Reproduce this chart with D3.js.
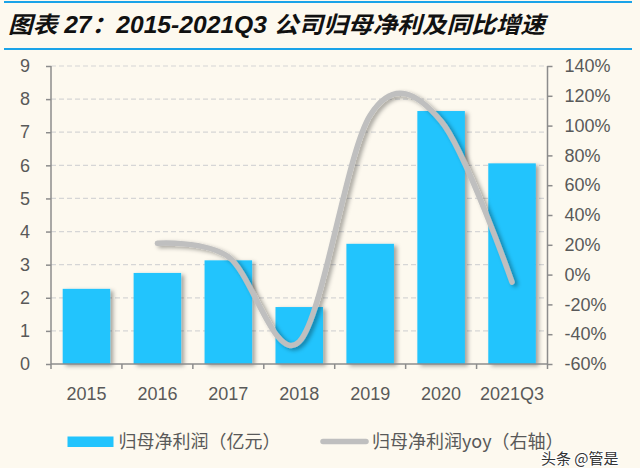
<!DOCTYPE html>
<html><head><meta charset="utf-8">
<script src="https://cdn.jsdelivr.net/npm/d3@7"></script>
<style>
html,body{margin:0;padding:0;background:#FDF9EF;}
svg{display:block;}
text{font-family:"Liberation Sans",Arial,sans-serif;}
</style></head>
<body><svg id="c" width="640" height="468"></svg>
<script>
const categories = ["2015","2016","2017","2018","2019","2020","2021Q3"];
const profit = [2.27, 2.75, 3.13, 1.72, 3.63, 7.64, 6.06];
const yoyCats = ["2016","2017","2018","2019","2020","2021Q3"];
const yoy = [0.21, 0.12, -0.45, 1.07, 1.03, -0.05];
const leftTicks = [0,1,2,3,4,5,6,7,8,9];
const rightTicks = [-0.6,-0.4,-0.2,0,0.2,0.4,0.6,0.8,1.0,1.2,1.4];
const title = "图表 27：2015-2021Q3 公司归母净利及同比增速";
const legendNames = ["归母净利润（亿元）","归母净利润yoy（右轴）"];
const watermark = "头条 @管是";

const svg = d3.select("#c");
const L = 51, R = 547.5, T = 66, B = 364;
const x = d3.scaleBand().domain(categories).range([L, R]).paddingInner(0.33).paddingOuter(0.165);
const xb = d3.scaleBand().domain(categories).range([L, R]);
const yL = d3.scaleLinear().domain([0, 9]).range([B, T]);
const yR = d3.scaleLinear().domain([-0.6, 1.4]).range([B, T]);

const defs = svg.append("defs");
const f = defs.append("filter").attr("id","sh").attr("x","-20%").attr("y","-20%").attr("width","150%").attr("height","150%");
f.append("feDropShadow").attr("dx",3).attr("dy",2).attr("stdDeviation",2).attr("flood-color","#000").attr("flood-opacity",0.35);

// title
svg.append("line").attr("x1",4).attr("x2",632).attr("y1",2).attr("y2",2).attr("stroke","#1AA3E8").attr("stroke-width",2);
svg.append("line").attr("x1",4).attr("x2",632).attr("y1",49).attr("y2",49).attr("stroke","#1AA3E8").attr("stroke-width",2);
svg.append("text").attr("x",8).attr("y",33).attr("font-size",23).attr("font-weight","bold")
  .attr("font-style","italic").attr("fill","#111")
  .style("font-family","'Liberation Sans','Noto Sans CJK SC',sans-serif")
  .attr("textLength",537).attr("lengthAdjust","spacingAndGlyphs").text(title);

// grid
svg.append("g").selectAll("line").data(leftTicks.filter(d=>d>0)).join("line")
  .attr("x1",L).attr("x2",R).attr("y1",d=>yL(d)).attr("y2",d=>yL(d))
  .attr("stroke","#D6D6D6").attr("stroke-width",1.2).attr("stroke-dasharray","5,3");

// bars
svg.append("g").selectAll("rect").data(profit).join("rect")
  .attr("x",(d,i)=>x(categories[i])).attr("width",x.bandwidth())
  .attr("y",d=>yL(d)).attr("height",d=>B-yL(d))
  .attr("fill","#22C4FD").attr("filter","url(#sh)");

// axes
const axCol = "#8C8C8C";
const gl = svg.append("g").attr("transform",`translate(${L},0)`)
  .call(d3.axisLeft(yL).tickValues(leftTicks).tickSize(5).tickPadding(16).tickFormat(d3.format("d")));
const gr = svg.append("g").attr("transform",`translate(${R},0)`)
  .call(d3.axisRight(yR).tickValues(rightTicks).tickSize(5).tickPadding(12).tickFormat(d=>Math.round(d*100)+"%"));
const gx = svg.append("g").attr("transform",`translate(0,${B})`)
  .call(d3.axisBottom(xb).tickSize(0).tickPadding(23));
[gl,gr,gx].forEach(g=>{
  g.select(".domain").attr("stroke",axCol).attr("stroke-width",1.5);
  g.selectAll(".tick line").attr("stroke",axCol).attr("stroke-width",1.5);
  g.selectAll("text").attr("fill","#595959").attr("font-size",18).style("font-family","'Liberation Sans',Arial,sans-serif");
});
gl.select(".domain").attr("d",`M-0,${B}V${T}`);
gr.select(".domain").attr("d",`M0,${B}V${T}`);
gx.select(".domain").attr("d",`M${L},0H${R}`);
// x boundary ticks
gx.append("g").selectAll("line").data(categories.concat(["end"])).join("line")
  .attr("x1",(d,i)=> i<categories.length ? xb(d) : R).attr("x2",(d,i)=> i<categories.length ? xb(d) : R)
  .attr("y1",0).attr("y2",5).attr("stroke",axCol).attr("stroke-width",1.5);

// line
const line = d3.line().x((d,i)=>xb(yoyCats[i])+xb.bandwidth()/2).y(d=>yR(d)).curve(d3.curveCatmullRom.alpha(0));
svg.append("path").datum(yoy).attr("d",line).attr("fill","none")
  .attr("stroke","#BFBFBF").attr("stroke-width",5.5).attr("stroke-linecap","round").attr("filter","url(#sh)");

// legend
svg.append("rect").attr("x",67.5).attr("y",436.5).attr("width",46).attr("height",10.5).attr("fill","#22C4FD");
svg.append("text").attr("x",118.5).attr("y",448).attr("font-size",18).attr("fill","#595959")
  .style("font-family","'Noto Sans CJK SC',sans-serif").text(legendNames[0]);
svg.append("line").attr("x1",323).attr("x2",366).attr("y1",441.5).attr("y2",441.5)
  .attr("stroke","#BFBFBF").attr("stroke-width",5.5).attr("stroke-linecap","round");
svg.append("text").attr("x",372).attr("y",448).attr("font-size",18).attr("fill","#595959")
  .style("font-family","'Noto Sans CJK SC',sans-serif").text(legendNames[1]);

// watermark
svg.append("text").attr("x",541).attr("y",464).attr("font-size",15).attr("fill","#333")
  .attr("stroke","#fff").attr("stroke-width",2).attr("paint-order","stroke")
  .style("font-family","'Noto Sans CJK SC',sans-serif").text(watermark);
</script></body></html>
